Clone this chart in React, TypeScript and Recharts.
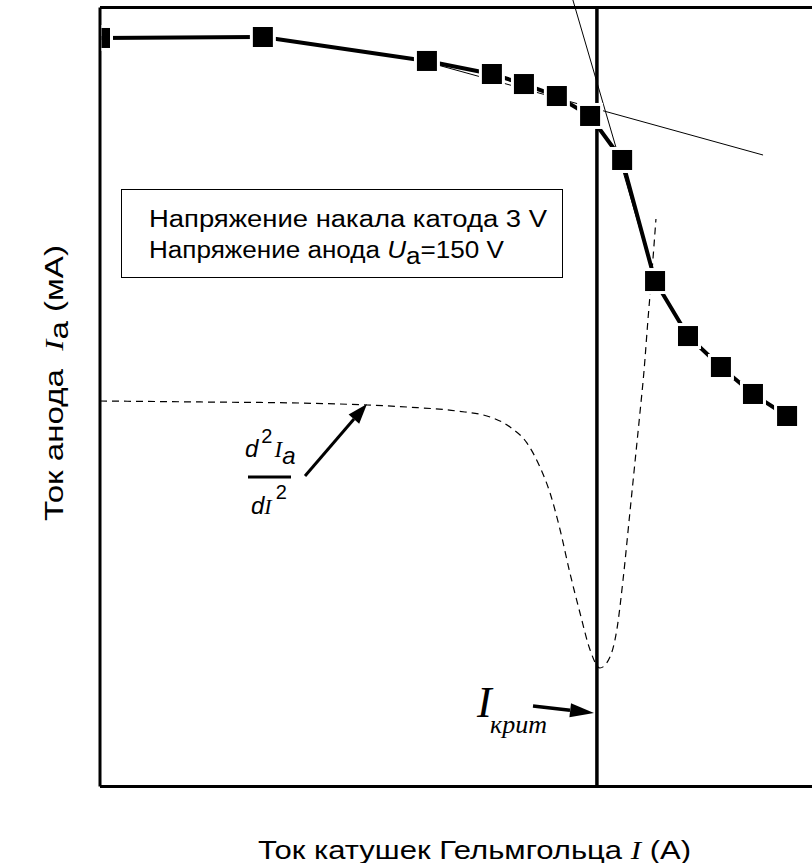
import { LineChart, Line, XAxis, YAxis, ReferenceLine } from 'recharts'

// ─── Data ────────────────────────────────────────────────────────
// Helmholtz coil current I (A) vs anode current Ia (mA), arbitrary units

const coilCurrent = [0, 0.549, 1.102, 1.321, 1.429, 1.54, 1.652, 1.76, 1.871, 1.982, 2.093, 2.201, 2.316]
const anodeCurrent = [7.687, 7.697, 7.451, 7.317, 7.214, 7.091, 6.886, 6.434, 5.191, 4.626, 4.308, 4.031, 3.805]

// second derivative d2Ia/dI2 (dashed curve)
const derivX = [0, 0.337, 0.674, 0.9, 1.035, 1.203, 1.315, 1.382, 1.439, 1.483, 1.517, 1.551, 1.584, 1.618, 1.652, 1.685, 1.719, 1.742, 1.763, 1.786, 1.803, 1.82, 1.834, 1.847, 1.861, 1.874]
const derivY = [3.959, 3.949, 3.938, 3.918, 3.897, 3.856, 3.795, 3.692, 3.528, 3.281, 3.014, 2.634, 2.193, 1.782, 1.402, 1.217, 1.33, 1.607, 2.121, 2.809, 3.322, 3.836, 4.277, 4.791, 5.304, 5.828]

// critical current and the two tangents
const I_CRIT = 1.675
const tangentFlat = [{ x: 1.102, y: 7.44 }, { x: 2.235, y: 6.485 }]
const tangentSteep = [{ x: 1.594, y: 8.077 }, { x: 1.871, y: 5.191 }]

const X_DOMAIN = [0, 2.4]
const Y_DOMAIN = [0, 8]

const mainData = coilCurrent.map((x, i) => ({ x, y: anodeCurrent[i] }))
const derivData = derivX.map((x, i) => ({ x, y: derivY[i] }))

const SANS = '"Liberation Sans", Arial, sans-serif'
const SERIF = '"Liberation Serif", "Times New Roman", serif'

// ─── Square marker with white halo ───────────────────────────────

function SquareDot(props: any) {
  const { cx, cy, index } = props
  if (cx == null || cy == null) return null
  const first = index === 0
  const wx = first ? cx + 1.5 : cx - 13
  const bx = first ? cx + 1.5 : cx - 10
  return (
    <g>
      <rect x={wx} y={cy - 13} width={first ? 11.5 : 26} height={26} fill="#fff" />
      <rect x={bx} y={cy - 10} width={first ? 8.5 : 20} height={20} fill="#000" />
    </g>
  )
}

// ─── Annotations (text + arrows) ─────────────────────────────────

function Overlay() {
  return (
    <svg width={812} height={863} style={{ position: 'absolute', left: 0, top: 0, pointerEvents: 'none' }}>
      {/* info box */}
      <rect x={121.5} y={189.5} width={441} height={88} fill="none" stroke="#000" strokeWidth={1} />
      <text x={149} y={227} fontFamily={SANS} fontSize={23} textLength={398} lengthAdjust="spacingAndGlyphs">
        Напряжение накала катода 3 V
      </text>
      <text x={149} y={258} fontFamily={SANS} fontSize={23} textLength={355} lengthAdjust="spacingAndGlyphs" style={{ whiteSpace: 'pre' }}>
        Напряжение анода <tspan fontStyle="italic">U</tspan>
        <tspan dy={6}>a</tspan>
        <tspan dy={-6}>=150 V</tspan>
      </text>

      {/* d2Ia / dI2 */}
      <text x={245} y={457} fontFamily={SANS} fontStyle="italic" fontSize={24}>
        d<tspan fontStyle="normal" fontSize={20} dx={3} dy={-14}>2</tspan>
        <tspan fontFamily={SERIF} fontSize={23} dx={2} dy={14}>I</tspan>
        <tspan dy={7}>a</tspan>
      </text>
      <line x1={248} y1={477} x2={291} y2={477} stroke="#000" strokeWidth={3} />
      <text x={251} y={514} fontFamily={SANS} fontStyle="italic" fontSize={24}>
        d<tspan fontFamily={SERIF} fontSize={22}>I</tspan>
        <tspan fontStyle="normal" fontSize={20} dx={4} dy={-15}>2</tspan>
      </text>
      <line x1={305} y1={476} x2={354} y2={419} stroke="#000" strokeWidth={3} />
      <polygon points="367,404 359.2,423.8 348.6,414.6" fill="#000" />

      {/* I krit */}
      <text x={477} y={717} fontFamily={SERIF} fontStyle="italic" fontSize={44}>I</text>
      <text x={490} y={733} fontFamily={SERIF} fontStyle="italic" fontSize={26}>крит</text>
      <line x1={533} y1={706} x2={570} y2={710.3} stroke="#000" strokeWidth={3.5} />
      <polygon points="594,713 569.4,717.2 571,703.3" fill="#000" />

      {/* axis titles */}
      <text x={258} y={859} fontFamily={SANS} fontSize={25} textLength={433} lengthAdjust="spacingAndGlyphs" style={{ whiteSpace: 'pre' }}>
        Ток катушек Гельмгольца <tspan fontFamily={SERIF} fontStyle="italic">I</tspan> (А)
      </text>
      <text
        transform="translate(63,521) rotate(-90)"
        fontFamily={SANS}
        fontSize={25}
        textLength={276}
        lengthAdjust="spacingAndGlyphs"
        style={{ whiteSpace: 'pre' }}
      >
        Ток анода  <tspan fontFamily={SERIF} fontStyle="italic">I</tspan>
        <tspan dy={5}>a</tspan>
        <tspan dy={-5}> (мА)</tspan>
      </text>
    </svg>
  )
}

// ─── Main Component ──────────────────────────────────────────────

export default function App() {
  return (
    <div style={{ position: 'absolute', left: 0, top: 0, width: 812, height: 863, overflow: 'hidden', background: '#fff' }}>
      <LineChart width={812} height={863} margin={{ top: 7.5, right: 0, bottom: 76.5, left: 100 }}>
        <XAxis type="number" dataKey="x" domain={X_DOMAIN} hide />
        <YAxis type="number" dataKey="y" domain={Y_DOMAIN} hide />
        {/* frame: left, bottom, top */}
        <ReferenceLine x={X_DOMAIN[0]} stroke="#000" strokeWidth={3} />
        <ReferenceLine y={Y_DOMAIN[0]} stroke="#000" strokeWidth={3} />
        <ReferenceLine y={Y_DOMAIN[1]} stroke="#000" strokeWidth={3} />
        {/* critical current */}
        <ReferenceLine x={I_CRIT} stroke="#000" strokeWidth={3.5} />
        <Line
          data={derivData}
          dataKey="y"
          type="monotone"
          stroke="#000"
          strokeWidth={1.2}
          strokeDasharray="7 5"
          dot={false}
          isAnimationActive={false}
        />
        <Line
          data={mainData}
          dataKey="y"
          type="linear"
          stroke="#000"
          strokeWidth={4}
          dot={<SquareDot />}
          isAnimationActive={false}
        />
        <ReferenceLine segment={tangentFlat} stroke="#000" strokeWidth={1} ifOverflow="visible" />
        <ReferenceLine segment={tangentSteep} stroke="#000" strokeWidth={1} ifOverflow="visible" />
      </LineChart>
      <Overlay />
    </div>
  )
}
